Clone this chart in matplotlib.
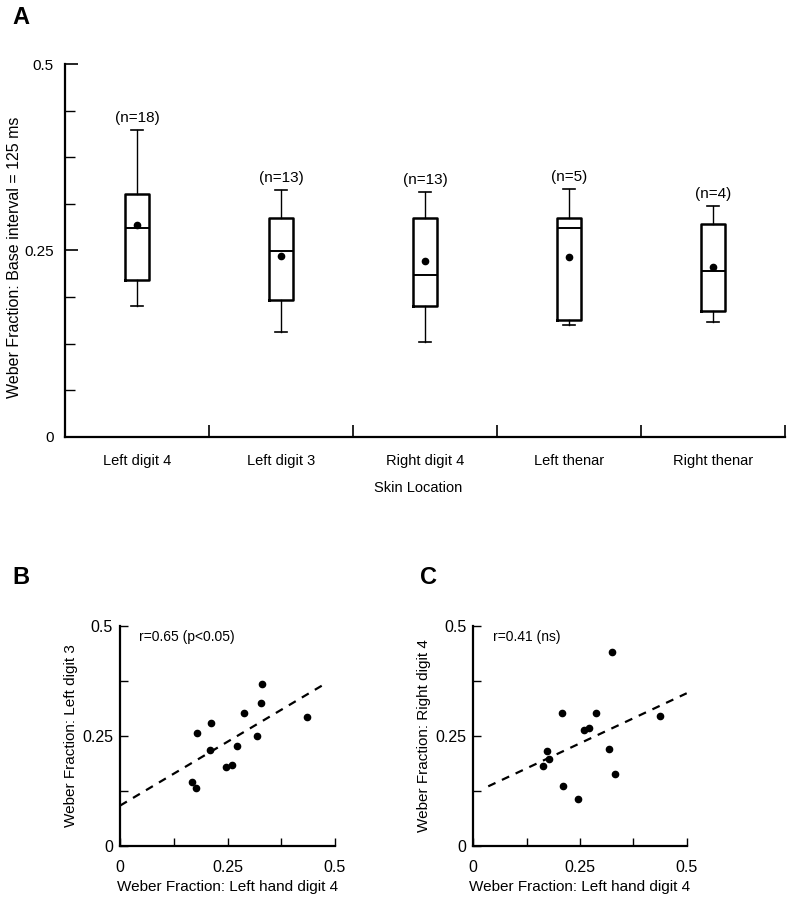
import matplotlib
matplotlib.use("Agg")
import matplotlib.pyplot as plt
import numpy as np

plt.rcParams['font.family'] = ['Liberation Sans', 'DejaVu Sans']

# ---------------- Panel A data ----------------
categories = ["Left digit 4", "Left digit 3", "Right digit 4", "Left thenar", "Right thenar"]
n_labels = ["(n=18)", "(n=13)", "(n=13)", "(n=5)", "(n=4)"]
whisker_low = [0.175, 0.141, 0.128, 0.150, 0.154]
q1 = [0.210, 0.183, 0.176, 0.157, 0.169]
median = [0.280, 0.249, 0.217, 0.280, 0.223]
q3 = [0.326, 0.294, 0.294, 0.294, 0.286]
whisker_high = [0.411, 0.331, 0.328, 0.333, 0.310]
mean = [0.284, 0.242, 0.236, 0.241, 0.228]

# ---------------- Panel B data ----------------
b_x = [0.167, 0.176, 0.180, 0.209, 0.212, 0.246, 0.261, 0.271, 0.288, 0.318, 0.327, 0.331, 0.436]
b_y = [0.144, 0.132, 0.257, 0.218, 0.278, 0.180, 0.184, 0.227, 0.301, 0.250, 0.324, 0.367, 0.293]
b_fit_intercept = 0.091
b_fit_slope = 0.581
b_fit_range = [0.0, 0.482]
b_text = "r=0.65 (p<0.05)"

# ---------------- Panel C data ----------------
c_x = [0.164, 0.173, 0.178, 0.207, 0.210, 0.245, 0.259, 0.270, 0.288, 0.318, 0.326, 0.331, 0.438]
c_y = [0.182, 0.216, 0.198, 0.301, 0.136, 0.106, 0.264, 0.268, 0.302, 0.219, 0.441, 0.164, 0.295]
c_fit_intercept = 0.119
c_fit_slope = 0.455
c_fit_range = [0.035, 0.5]
c_text = "r=0.41 (ns)"

W, H = 792, 900
fig = plt.figure(figsize=(W / 100, H / 100), dpi=100)


def rect(l, t, r, b):
    return [l / W, 1 - b / H, (r - l) / W, (b - t) / H]


# ================= Panel A =================
axA = fig.add_axes(rect(65, 64, 785, 437))
positions = np.arange(len(categories))
stats = []
for i in range(len(categories)):
    stats.append(dict(whislo=whisker_low[i], q1=q1[i], med=median[i], q3=q3[i],
                      whishi=whisker_high[i], mean=mean[i], fliers=[]))
axA.bxp(stats, positions=positions, widths=0.17, capwidths=0.085,
        showmeans=True, showfliers=False, patch_artist=False,
        boxprops=dict(color='black', linewidth=1.8),
        medianprops=dict(color='black', linewidth=1.4),
        whiskerprops=dict(color='black', linewidth=1.0),
        capprops=dict(color='black', linewidth=1.2),
        meanprops=dict(marker='o', markerfacecolor='black', markeredgecolor='black',
                       markersize=4.5))
for i in range(len(categories)):
    axA.text(positions[i], whisker_high[i] + 0.016, n_labels[i], ha='center', va='center',
             fontsize=11)

axA.set_xlim(-0.5, len(categories) - 0.5)
axA.set_ylim(0, 0.5)
axA.spines['top'].set_visible(False)
axA.spines['right'].set_visible(False)
for s in ['left', 'bottom']:
    axA.spines[s].set_linewidth(1.6)
axA.set_yticks([0, 0.25, 0.5])
axA.set_yticklabels(["0", "0.25", "0.5"], fontsize=11)
axA.set_yticks(np.arange(0, 0.5001, 0.0625), minor=True)
axA.tick_params(axis='y', which='major', direction='in', length=9, width=1.2, pad=8)
axA.tick_params(axis='y', which='minor', direction='in', length=7, width=1.0)
axA.set_xticks(positions + 0.5)
axA.set_xticklabels([])
axA.tick_params(axis='x', which='major', direction='in', length=9, width=1.2)
axA.set_xticks(positions, minor=True)
axA.set_xticklabels(categories, minor=True, fontsize=10.5)
axA.tick_params(axis='x', which='minor', length=0, pad=12)
axA.set_xlabel("Skin Location", fontsize=10.5)
axA.xaxis.set_label_coords(418 / W, 1 - 488 / H, transform=fig.transFigure)
axA.xaxis.label.set_va('center')
axA.set_ylabel("Weber Fraction: Base interval = 125 ms", fontsize=11.5)
axA.yaxis.set_label_coords(15 / W, 1 - 257 / H, transform=fig.transFigure)
axA.yaxis.label.set_va('center')

fig.text(21 / W, 1 - 18 / H, "A", fontsize=17, fontweight='bold', ha='center', va='center')


# ================= Panels B and C =================
def scatter_panel(ax, xs, ys, intercept, slope, frange, txt, ylabel):
    ax.plot(xs, ys, 'o', color='black', markersize=4.5, linestyle='none')
    fx = np.array(frange)
    ax.plot(fx, intercept + slope * fx, color='black', linewidth=1.6,
            linestyle=(0, (3.6, 3.2)))
    ax.set_xlim(0, 0.5)
    ax.set_ylim(0, 0.5)
    ax.spines['top'].set_visible(False)
    ax.spines['right'].set_visible(False)
    for s in ['left', 'bottom']:
        ax.spines[s].set_linewidth(1.6)
    ax.set_xticks([0, 0.25, 0.5])
    ax.set_xticklabels(["0", "0.25", "0.5"], fontsize=11.5)
    ax.set_yticks([0, 0.25, 0.5])
    ax.set_yticklabels(["0", "0.25", "0.5"], fontsize=11.5)
    ax.set_xticks([0.125, 0.375], minor=True)
    ax.set_yticks([0.125, 0.375], minor=True)
    ax.tick_params(which='both', direction='in', length=6, width=1.0)
    ax.tick_params(axis='y', which='major', pad=5)
    ax.tick_params(axis='x', which='major', pad=10)
    ax.text(0.045, 0.474, txt, fontsize=10, ha='left', va='center')
    ax.set_xlabel("Weber Fraction: Left hand digit 4", fontsize=11, labelpad=4)
    ax.set_ylabel(ylabel, fontsize=11, labelpad=3)


axB = fig.add_axes(rect(120, 625.7, 335, 845.7))
scatter_panel(axB, b_x, b_y, b_fit_intercept, b_fit_slope, b_fit_range, b_text,
              "Weber Fraction: Left digit 3")
fig.text(21 / W, 1 - 578 / H, "B", fontsize=17, fontweight='bold', ha='center', va='center')

axC = fig.add_axes(rect(473.3, 625.7, 686.7, 845.7))
scatter_panel(axC, c_x, c_y, c_fit_intercept, c_fit_slope, c_fit_range, c_text,
              "Weber Fraction: Right digit 4")
fig.text(429 / W, 1 - 578 / H, "C", fontsize=17, fontweight='bold', ha='center', va='center')

fig.savefig("out.png", dpi=100)
